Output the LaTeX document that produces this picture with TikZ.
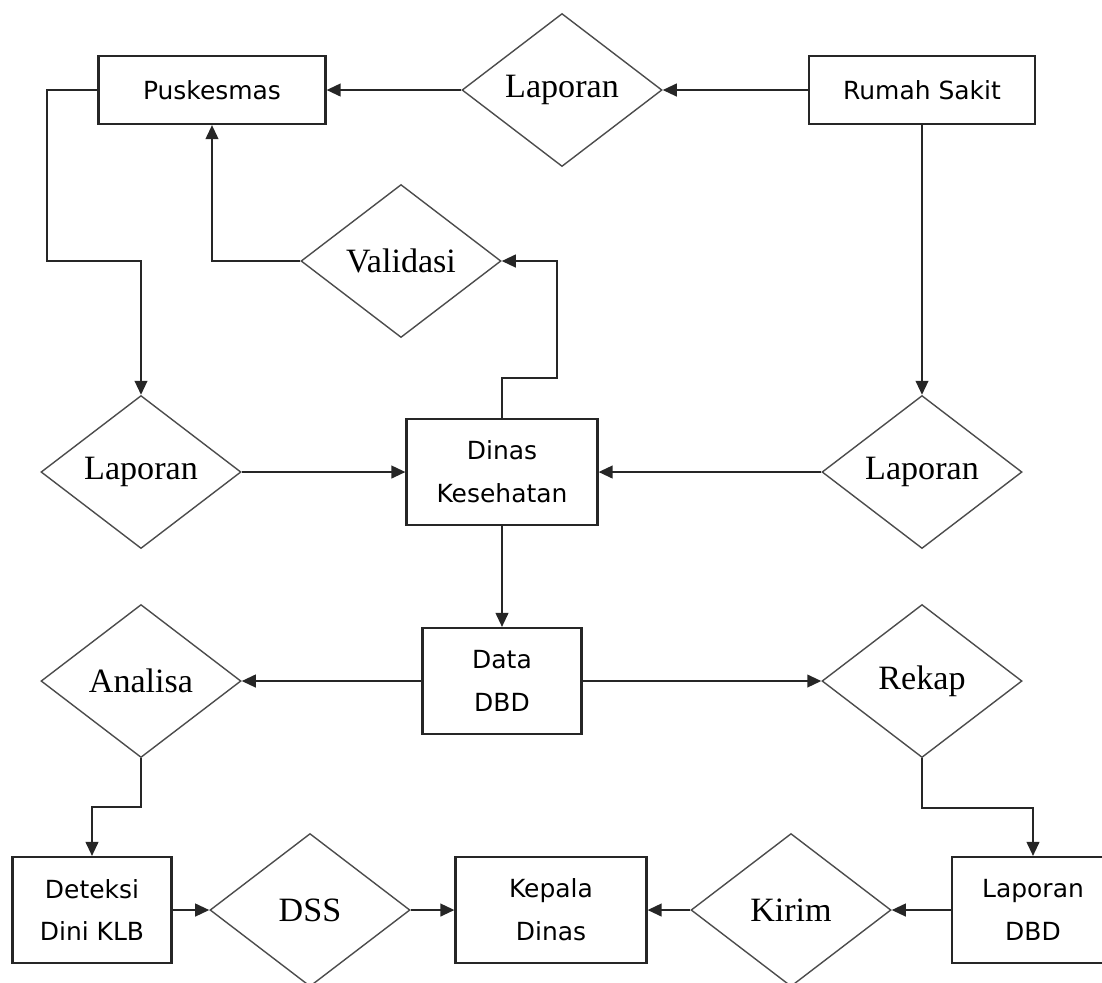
\documentclass[tikz,border=0pt]{standalone}
\usepackage{fontspec}
\setmainfont{Liberation Serif}
\setsansfont{DejaVu Sans}
\usetikzlibrary{shapes.geometric,arrows.meta}

\begin{document}
\begin{tikzpicture}[x=0.1mm, y=-0.1mm, line width=0.6pt, draw=black!85,
  >={Triangle[length=4pt,width=3.6pt]},
  box/.style={draw=black!85, align=center, inner sep=0pt, minimum height=10.6mm,
    font=\sffamily\fontsize{7.1}{12.2}\selectfont},
  choice/.style={draw=black!70, line width=0.4pt, shape=diamond, shape aspect=1.3,
    inner sep=1pt, minimum width=20mm, minimum height=15.3mm,
    font=\fontsize{9.7}{11}\selectfont}]
  \useasboundingbox (0,0) rectangle (1102,982);
  \node[box, minimum width=22.7mm, minimum height=6.8mm] (pusk) at (212,90) {Puskesmas};
  \node[choice] (lap1) at (562,90) {Laporan};
  \node[box, minimum width=22.6mm, minimum height=6.8mm] (rs) at (922,90) {Rumah Sakit};
  \node[choice] (val) at (401,261) {Validasi};
  \node[choice] (lap2) at (141,472) {Laporan};
  \node[box, minimum width=19.1mm] (dinkes) at (502,472) {Dinas\\Kesehatan};
  \node[choice] (lap3) at (922,472) {Laporan};
  \node[choice] (ana) at (141,681) {Analisa};
  \node[box, minimum width=15.9mm] (data) at (502,681) {Data\\DBD};
  \node[choice] (rekap) at (922,681) {Rekap};
  \node[box, minimum width=15.9mm] (klb) at (92,910) {Deteksi\\Dini KLB};
  \node[choice] (dss) at (310,910) {DSS};
  \node[box, minimum width=19.1mm] (kepala) at (551,910) {Kepala\\Dinas};
  \node[choice] (kirim) at (791,910) {Kirim};
  \node[box, minimum width=16.2mm] (lapdbd) at (1033,910) {Laporan\\DBD};
  \draw[->] (rs) -- (lap1);
  \draw[->] (lap1) -- (pusk);
  \draw[->] (pusk.west) -| (47,261) -| (lap2.north);
  \draw[->] (val.west) -| (pusk.south);
  \draw[->] (dinkes.north) |- (557,378) |- (val.east);
  \draw[->] (rs) -- (lap3);
  \draw[->] (lap2) -- (dinkes);
  \draw[->] (lap3) -- (dinkes);
  \draw[->] (dinkes) -- (data);
  \draw[->] (data) -- (ana);
  \draw[->] (data) -- (rekap);
  \draw[->] (ana.south) -- ++(0,49) -| (klb.north);
  \draw[->] (rekap.south) -- ++(0,50) -| (lapdbd.north);
  \draw[->] (klb) -- (dss);
  \draw[->] (dss) -- (kepala);
  \draw[->] (lapdbd) -- (kirim);
  \draw[->] (kirim) -- (kepala);
\end{tikzpicture}
\end{document}
